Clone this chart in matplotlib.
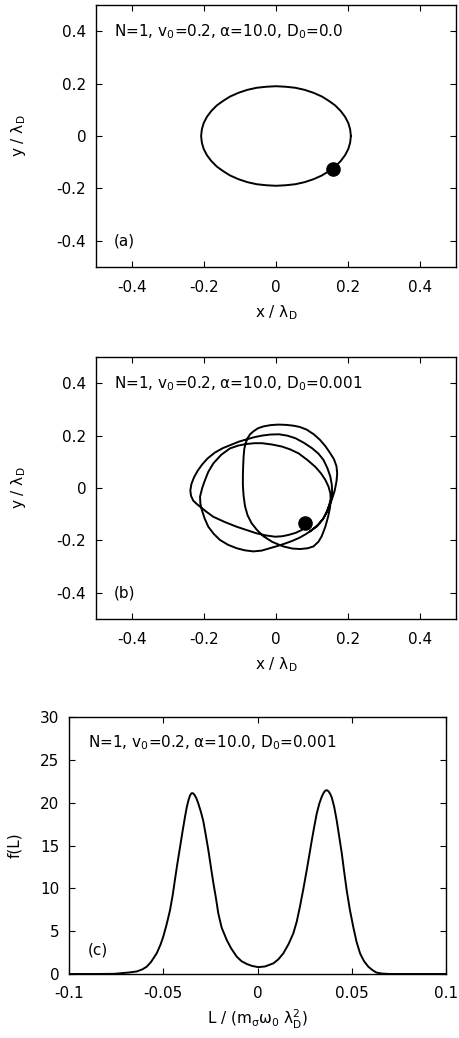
import matplotlib
matplotlib.use("Agg")
import matplotlib.pyplot as plt

plt.rcParams['font.family'] = ['DejaVu Sans']
plt.rcParams['mathtext.default'] = 'regular'
plt.rcParams['axes.unicode_minus'] = False

# ---------------- data ----------------
# panel (a): closed orbit, D0 = 0 (read around the loop, counter-clockwise)
a_x = [0.208, 0.206, 0.201, 0.192, 0.180, 0.165, 0.147, 0.127, 0.104, 0.080, 0.054, 0.027, 0.000,
       -0.027, -0.054, -0.080, -0.104, -0.127, -0.147, -0.165, -0.180, -0.192, -0.201, -0.206,
       -0.208, -0.206, -0.201, -0.192, -0.180, -0.165, -0.147, -0.127, -0.104, -0.080, -0.054,
       -0.027, 0.000, 0.027, 0.054, 0.080, 0.104, 0.127, 0.147, 0.165, 0.180, 0.192, 0.201,
       0.206, 0.208]
a_y = [0.000, 0.025, 0.049, 0.073, 0.095, 0.116, 0.134, 0.151, 0.165, 0.176, 0.184, 0.188, 0.190,
       0.188, 0.184, 0.176, 0.165, 0.151, 0.134, 0.116, 0.095, 0.073, 0.049, 0.025,
       0.000, -0.025, -0.049, -0.073, -0.095, -0.116, -0.134, -0.151, -0.165, -0.176, -0.184,
       -0.188, -0.190, -0.188, -0.184, -0.176, -0.165, -0.151, -0.134, -0.116, -0.095, -0.073,
       -0.049, -0.025, 0.000]
a_dot = (0.157, -0.126)

# panel (b): noisy trajectory, D0 = 0.001 (three turns, ends at the dot)
b_x = [0.095, 0.115, 0.132, 0.145, 0.155, 0.163, 0.168, 0.170, 0.168, 0.161, 0.150, 0.137,
       0.122, 0.105, 0.085, 0.066, 0.048, 0.027, 0.006, -0.015, -0.035, -0.050, -0.063, -0.072,
       -0.079, -0.084, -0.088, -0.090, -0.091, -0.092, -0.092, -0.090, -0.086, -0.079, -0.068,
       -0.053, -0.035, -0.010, 0.020, 0.045, 0.067, 0.088, 0.104, 0.118, 0.127, 0.137, 0.145,
       0.150, 0.152,
       0.151, 0.146, 0.137, 0.125, 0.109, 0.088, 0.063, 0.040, 0.017, -0.011, -0.039, -0.060,
       -0.081, -0.105, -0.128, -0.152, -0.174, -0.188, -0.197, -0.205, -0.211, -0.210, -0.206,
       -0.198, -0.188, -0.173, -0.156, -0.133, -0.109, -0.086, -0.063, -0.040, -0.017, 0.005,
       0.025, 0.045, 0.065, 0.083, 0.100, 0.116, 0.130, 0.140, 0.146, 0.152,
       0.156, 0.155, 0.151, 0.143, 0.132, 0.118, 0.100, 0.078, 0.054, 0.031, 0.008, -0.016,
       -0.039, -0.060, -0.081, -0.103, -0.125, -0.148, -0.170, -0.190, -0.205, -0.218, -0.228,
       -0.235, -0.238, -0.236, -0.230, -0.221, -0.211, -0.194, -0.174, -0.142, -0.109, -0.080,
       -0.054, -0.028, -0.002, 0.018, 0.035, 0.055, 0.072, 0.078, 0.080]
b_y = [-0.165, -0.145, -0.115, -0.080, -0.045, -0.010, 0.025, 0.055, 0.083, 0.110, 0.134, 0.160,
       0.184, 0.205, 0.223, 0.233, 0.238, 0.241, 0.242, 0.240, 0.235, 0.228, 0.216, 0.205,
       0.190, 0.172, 0.150, 0.120, 0.090, 0.050, 0.010, -0.030, -0.070, -0.104, -0.134,
       -0.160, -0.184, -0.206, -0.223, -0.231, -0.233, -0.230, -0.223, -0.205, -0.184, -0.148, -0.108,
       -0.075, -0.045,
       -0.020, 0.005, 0.031, 0.056, 0.081, 0.106, 0.132, 0.147, 0.158, 0.166, 0.171, 0.171,
       0.168, 0.162, 0.151, 0.127, 0.094, 0.062, 0.031, 0.000, -0.033, -0.060, -0.084,
       -0.117, -0.148, -0.175, -0.198, -0.217, -0.230, -0.238, -0.242, -0.239, -0.230, -0.221,
       -0.212, -0.202, -0.190, -0.176, -0.160, -0.141, -0.120, -0.095, -0.071, -0.045,
       -0.020, 0.012, 0.043, 0.075, 0.107, 0.131, 0.152, 0.172, 0.190, 0.200, 0.205, 0.204,
       0.200, 0.194, 0.186, 0.177, 0.165, 0.152, 0.135, 0.113, 0.090, 0.065, 0.040,
       0.015, -0.010, -0.030, -0.048, -0.060, -0.071, -0.090, -0.110, -0.130, -0.148, -0.161,
       -0.173, -0.181, -0.186, -0.184, -0.179, -0.171, -0.160, -0.150, -0.135]
b_dot = (0.080, -0.135)

# panel (c): distribution of angular momentum
c_L = [-0.100, -0.085, -0.076, -0.073, -0.068, -0.064, -0.061, -0.0588, -0.0565, -0.0535,
       -0.0515, -0.0500, -0.0482, -0.0464, -0.0450, -0.0438, -0.0425, -0.0411, -0.0398,
       -0.0385, -0.0375, -0.0366, -0.0358, -0.0350, -0.0342, -0.0334, -0.0325, -0.0314,
       -0.0300, -0.0288, -0.0275, -0.0261, -0.0248, -0.0234, -0.0220, -0.0208, -0.0190,
       -0.0175, -0.0163, -0.0140, -0.0110, -0.0085, -0.0057, -0.0030, 0.0004, 0.0040,
       0.0084, 0.0110, 0.0137, 0.0165, 0.0190, 0.0208, 0.0225, 0.0243, 0.0261, 0.0275,
       0.0288, 0.0301, 0.0314, 0.0328, 0.0341, 0.0352, 0.0361, 0.0369, 0.0378, 0.0386,
       0.0394, 0.0407, 0.0420, 0.0433, 0.0447, 0.0460, 0.0473, 0.0490, 0.0508, 0.0525,
       0.0544, 0.0565, 0.0588, 0.0610, 0.0632, 0.0660, 0.0700, 0.0800, 0.1000]
c_f = [0.0, 0.0, 0.02, 0.08, 0.18, 0.30, 0.55, 0.85, 1.40, 2.41,
       3.40, 4.35, 5.80, 7.46, 9.20, 11.0, 12.9, 14.8, 16.6,
       18.3, 19.5, 20.3, 20.85, 21.1, 21.1, 20.9, 20.55, 19.9,
       18.9, 17.9, 16.3, 14.5, 12.6, 10.6, 8.8, 7.08, 5.4,
       4.6, 3.96, 3.0, 2.02, 1.50, 1.17, 0.95, 0.80, 0.88,
       1.24, 1.70, 2.41, 3.50, 4.74, 6.10, 7.85, 9.90, 12.1, 13.9,
       15.6, 17.2, 18.7, 19.9, 20.7, 21.2, 21.42, 21.45, 21.3, 21.0,
       20.6, 19.5, 17.95, 16.1, 14.1, 11.9, 9.8, 7.5, 5.5, 3.8,
       2.41, 1.50, 0.85, 0.45, 0.16, 0.05, 0.0, 0.0, 0.0]

xy_ticks = [-0.4, -0.2, 0.0, 0.2, 0.4]
xy_ticklabels = ['-0.4', '-0.2', '0', '0.2', '0.4']
c_xticks = [-0.1, -0.05, 0.0, 0.05, 0.1]
c_xticklabels = ['-0.1', '-0.05', '0', '0.05', '0.1']
c_yticks = [0, 5, 10, 15, 20, 25, 30]
c_yticklabels = ['0', '5', '10', '15', '20', '25', '30']

title_a = 'N=1, v$_0$=0.2, α=10.0, D$_0$=0.0'
title_b = 'N=1, v$_0$=0.2, α=10.0, D$_0$=0.001'
title_c = 'N=1, v$_0$=0.2, α=10.0, D$_0$=0.001'

# ---------------- figure ----------------
W, H = 459, 1038
fig = plt.figure(figsize=(W / 100, H / 100), dpi=100)
fs = 11


def style(ax):
    ax.tick_params(direction='in', top=True, right=True, length=4, width=0.8,
                   labelsize=fs, pad=7)
    ax.tick_params(axis='x', pad=9)
    for s in ax.spines.values():
        s.set_linewidth(1.0)


ax1 = fig.add_axes([96 / W, (H - 267) / H, 360 / W, 262 / H])
ax2 = fig.add_axes([96 / W, (H - 619) / H, 360 / W, 262 / H])
ax3 = fig.add_axes([69 / W, (H - 974) / H, 377 / W, 257 / H])

for ax, xs, ys, dot, title, lab in [(ax1, a_x, a_y, a_dot, title_a, '(a)'),
                                    (ax2, b_x, b_y, b_dot, title_b, '(b)')]:
    ax.plot(xs, ys, color='black', lw=1.4, solid_joinstyle='round')
    ax.plot([dot[0]], [dot[1]], 'o', color='black', ms=9.5)
    ax.set_xlim(-0.5, 0.5)
    ax.set_ylim(-0.5, 0.5)
    ax.set_xticks(xy_ticks)
    ax.set_xticklabels(xy_ticklabels)
    ax.set_yticks(xy_ticks)
    ax.set_yticklabels(xy_ticklabels)
    style(ax)
    ax.text(0.05, 0.882, title, transform=ax.transAxes, fontsize=fs, va='baseline', ha='left')
    ax.text(0.05, 0.10, lab, transform=ax.transAxes, fontsize=fs, va='center', ha='left')
    ax.set_xlabel('x / λ$_D$', fontsize=fs)
    ax.set_ylabel('y / λ$_D$', fontsize=fs)
    ax.xaxis.set_label_coords(0.5, -0.14)
    ax.yaxis.set_label_coords(-0.19, 0.5)

ax3.plot(c_L, c_f, color='black', lw=1.4, solid_joinstyle='round')
ax3.set_xlim(-0.1, 0.1)
ax3.set_ylim(0, 30)
ax3.set_xticks(c_xticks)
ax3.set_xticklabels(c_xticklabels)
ax3.set_yticks(c_yticks)
ax3.set_yticklabels(c_yticklabels)
style(ax3)
ax3.text(0.05, 0.882, title_c, transform=ax3.transAxes, fontsize=fs, va='baseline', ha='left')
ax3.text(0.05, 0.093, '(c)', transform=ax3.transAxes, fontsize=fs, va='center', ha='left')
ax3.set_xlabel('L / (m$_σ$ω$_0$ λ$_D^2$)', fontsize=fs)
ax3.set_ylabel('f(L)', fontsize=fs)
ax3.xaxis.set_label_coords(0.5, -0.13)
ax3.yaxis.set_label_coords(-0.125, 0.5)

fig.savefig('out.png', dpi=100)
